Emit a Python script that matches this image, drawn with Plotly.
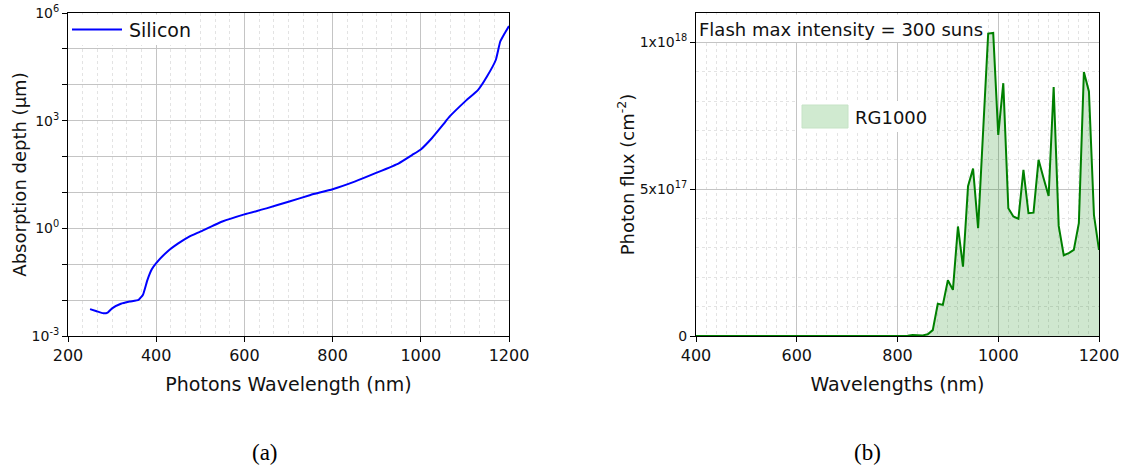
import plotly.graph_objects as go

# ---------------- data ----------------
si_wavelength = [250, 265, 280, 290, 300, 320, 340, 360, 370, 380, 390, 400, 425, 450, 475,
                 500, 550, 600, 650, 700, 750, 800, 850, 900, 950, 980, 1000, 1025, 1050,
                 1065, 1100, 1130, 1150, 1170, 1180, 1190, 1200]
si_depth = [0.0056, 0.0049, 0.0043, 0.0045, 0.0059, 0.0079, 0.0091, 0.0102, 0.0141, 0.036,
            0.072, 0.107, 0.224, 0.38, 0.59, 0.81, 1.55, 2.45, 3.6, 5.5, 8.5, 12.3, 20, 35.5,
            65, 110, 158, 324, 760, 1290, 3390, 7240, 17000, 49000, 158000, 269000, 437000]

flash_wavelength = [400, 810, 820, 830, 840, 850, 860, 870, 880, 890, 900, 910, 920, 930, 940,
                    950, 960, 980, 990, 1000, 1010, 1020, 1030, 1040, 1050, 1060, 1070, 1080,
                    1090, 1100, 1110, 1120, 1130, 1140, 1150, 1160, 1170, 1180, 1190, 1200]
flash_flux = [0, 0, 1e15, 3e15, 3e15, 2e15, 6e15, 2.0e16, 1.10e17, 1.06e17, 1.90e17, 1.57e17,
              3.73e17, 2.36e17, 5.10e17, 5.70e17, 3.67e17, 1.030e18, 1.032e18, 6.85e17, 8.61e17,
              4.35e17, 4.07e17, 3.99e17, 5.66e17, 4.18e17, 4.20e17, 6.00e17, 5.37e17, 4.77e17,
              8.48e17, 3.75e17, 2.75e17, 2.82e17, 2.93e17, 3.84e17, 8.99e17, 8.33e17, 4.12e17,
              2.93e17]

si_xticks = [200, 400, 600, 800, 1000, 1200]
si_yticks = [1e-3, 1e0, 1e3, 1e6]
si_yticktext = ["10<sup>-3</sup>", "10<sup>0</sup>", "10<sup>3</sup>", "10<sup>6</sup>"]
flash_xticks = [400, 600, 800, 1000, 1200]
flash_yticks = [0, 5e17, 1e18]
flash_yticktext = ["0", "5x10<sup>17</sup>", "1x10<sup>18</sup>"]

# ---------------- figure ----------------
W, H = 1127, 469
T, B = 13, 336  # plot top / bottom in px


def px(x):
    return x / W


def py(y):
    return (B - y) / (B - T)


FONT = "DejaVu Sans"
TXT = "#111111"
MAJOR = "#c4c4c4"
MINOR = "#e3e3e3"

fig = go.Figure()
fig.add_trace(go.Scatter(
    x=si_wavelength, y=si_depth, mode="lines", name="Silicon",
    line=dict(color="#0000ff", width=2, shape="spline", smoothing=0.4),
    xaxis="x", yaxis="y", showlegend=False))
fig.add_trace(go.Scatter(
    x=flash_wavelength, y=flash_flux, mode="lines", name="RG1000",
    fill="tozeroy", fillcolor="rgba(0,128,0,0.19)",
    line=dict(color="#008000", width=2),
    xaxis="x2", yaxis="y2", showlegend=False))

common_axis = dict(
    showline=True, linecolor="black", linewidth=1, mirror=True,
    ticks="outside", ticklen=5, tickcolor="black", tickwidth=1,
    showgrid=True, gridcolor=MAJOR, gridwidth=1, zeroline=False,
    automargin=False,
)
xtick_font = dict(family=FONT, size=16, color=TXT)
ytick_font = dict(family=FONT, size=14, color=TXT)

fig.update_layout(
    width=W, height=H,
    margin=dict(l=0, r=0, t=T, b=H - B, pad=0, autoexpand=False),
    paper_bgcolor="white", plot_bgcolor="white",
    showlegend=False,
    xaxis=dict(
        domain=[px(68), px(509)], range=[200, 1200], anchor="y",
        tickmode="array", tickvals=si_xticks, tickfont=xtick_font,
        minor=dict(dtick=200 / 6, tick0=200, showgrid=True, gridcolor=MINOR,
                   griddash="dot", gridwidth=1),
        title=dict(text="Photons Wavelength (nm)", standoff=13,
                   font=dict(family=FONT, size=19, color=TXT)),
        **common_axis),
    yaxis=dict(
        domain=[0, 1], type="log", range=[-3, 6], anchor="x",
        tickmode="array", tickvals=si_yticks, ticktext=si_yticktext, tickfont=ytick_font,
        minor=dict(dtick=1, ticks="outside", ticklen=5, tickcolor="black",
                   showgrid=True, gridcolor=MAJOR, griddash="solid", gridwidth=1),
        title=dict(text="Absorption depth (\u03bcm)", standoff=0,
                   font=dict(family=FONT, size=18, color=TXT)),
        **common_axis),
    xaxis2=dict(
        domain=[px(696), px(1099)], range=[400, 1200], anchor="y2",
        tickmode="array", tickvals=flash_xticks, tickfont=xtick_font,
        minor=dict(dtick=20, tick0=400, showgrid=True, gridcolor=MINOR,
                   griddash="dot", gridwidth=1),
        title=dict(text="Wavelengths (nm)", standoff=13,
                   font=dict(family=FONT, size=19, color=TXT)),
        **common_axis),
    yaxis2=dict(
        domain=[0, 1], range=[0, 1.1e18], anchor="x2",
        tickmode="array", tickvals=flash_yticks, ticktext=flash_yticktext, tickfont=ytick_font,
        minor=dict(dtick=1e17, tick0=0, showgrid=True, gridcolor=MINOR,
                   griddash="dot", gridwidth=1),
        title=dict(text="Photon flux (cm<sup>-2</sup>)", standoff=0,
                   font=dict(family=FONT, size=18, color=TXT)),
        **common_axis),
)

shapes = [
    # Silicon legend background + swatch
    dict(type="rect", xref="paper", yref="paper", x0=px(70), x1=px(196), y0=py(45), y1=py(14.5),
         fillcolor="white", line=dict(width=0), layer="above"),
    dict(type="line", xref="paper", yref="paper", x0=px(72), x1=px(122), y0=py(29.5), y1=py(29.5),
         line=dict(color="#0000ff", width=2), layer="above"),
    # Flash text background
    dict(type="rect", xref="paper", yref="paper", x0=px(697.5), x1=px(982), y0=py(42), y1=py(14.5),
         fillcolor="white", line=dict(width=0), layer="above"),
    # RG1000 legend background + swatch
    dict(type="rect", xref="paper", yref="paper", x0=px(797), x1=px(935), y0=py(132), y1=py(101),
         fillcolor="white", line=dict(width=0), layer="above"),
    dict(type="rect", xref="paper", yref="paper", x0=px(802), x1=px(848), y0=py(128), y1=py(105),
         fillcolor="#d0ead0", line=dict(color="#c6e3c6", width=1), layer="above"),
]

annotations = [
    dict(text="Silicon", xref="paper", yref="paper", x=px(127), y=py(30),
         xanchor="left", yanchor="middle", showarrow=False,
         font=dict(family=FONT, size=19, color=TXT)),
    dict(text="Flash max intensity = 300 suns", xref="paper", yref="paper", x=px(697), y=py(29),
         xanchor="left", yanchor="middle", showarrow=False,
         font=dict(family=FONT, size=18, color=TXT)),
    dict(text="RG1000", xref="paper", yref="paper", x=px(853), y=py(117),
         xanchor="left", yanchor="middle", showarrow=False,
         font=dict(family=FONT, size=18, color=TXT)),
    dict(text="(a)", xref="paper", yref="paper", x=px(265), y=py(452),
         xanchor="center", yanchor="middle", showarrow=False,
         font=dict(family="Liberation Serif", size=23, color="black")),
    dict(text="(b)", xref="paper", yref="paper", x=px(867), y=py(452),
         xanchor="center", yanchor="middle", showarrow=False,
         font=dict(family="Liberation Serif", size=23, color="black")),
]

fig.update_layout(shapes=shapes, annotations=annotations)
fig.write_html("out.html")
